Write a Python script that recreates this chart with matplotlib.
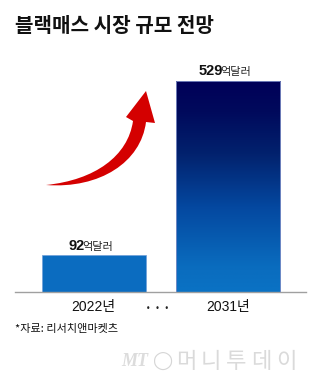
import matplotlib
matplotlib.use("Agg")
import matplotlib.pyplot as plt
import numpy as np
from matplotlib.path import Path
from matplotlib.patches import PathPatch
from matplotlib.colors import LinearSegmentedColormap

plt.rcParams['font.family'] = ['Liberation Sans', 'Noto Sans CJK KR', 'DejaVu Sans']

title = "블랙매스 시장 규모 전망"
categories = ["2022년", "2031년"]
values = [92, 529]
unit = "억달러"
source = "*자료: 리서치앤마켓츠"
watermark_mt = "MT"
watermark_name = "머니투데이"

W, H = 320, 384
fig = plt.figure(figsize=(W / 100, H / 100), dpi=100)
fig.patch.set_facecolor("white")

def fx(px):
    return px / W

def fy(py):
    return 1 - py / H

# axes: x 15..306 px, baseline at 292 px, top at 81 px (max value)
ax = fig.add_axes([fx(15), fy(292), fx(306) - fx(15), fy(81) - fy(292)])
ax.set_facecolor("none")
for s in ["top", "right", "left"]:
    ax.spines[s].set_visible(False)
ax.spines["bottom"].set_color("#a0a0a0")
ax.spines["bottom"].set_linewidth(1.0)
ax.set_yticks([])
ax.set_xticks([])

x = np.arange(len(categories))
bw = 0.776

# first bar: solid blue
ax.bar(x[0], values[0], width=bw, color="#0b6cc0", edgecolor="#6f9fd8",
       linewidth=0.5, zorder=2)

# second bar: gradient
b2 = ax.bar(x[1], values[1], width=bw, color="none", edgecolor="#8090c8",
            linewidth=0.6, zorder=3)
cmap = LinearSegmentedColormap.from_list(
    "grad",
    [(0.0, "#0a72c4"), (0.12, "#0a6cbe"), (0.4, "#0448a0"),
     (0.65, "#02226e"), (0.85, "#000a5c"), (1.0, "#000058")])
grad = np.linspace(0, 1, 256).reshape(-1, 1)
im = ax.imshow(grad, cmap=cmap, aspect="auto", origin="lower",
               extent=[x[1] - bw / 2, x[1] + bw / 2, 0, values[1]], zorder=2)
im.set_clip_path(b2.patches[0])
ax.set_xlim(-0.587, 1.584)
ax.set_ylim(0, max(values))

# value labels
fig.canvas.draw()
renderer = fig.canvas.get_renderer()
pts = 72 / fig.dpi
for xi, v in zip(x, values):
    t1 = ax.annotate(str(v), xy=(xi, v), xytext=(0, 4), textcoords="offset points",
                     ha="left", va="baseline", fontsize=10.5, fontweight="bold",
                     family=["Liberation Sans"], color="#111111")
    t2 = ax.annotate(unit, xy=(xi, v), xytext=(0, 4), textcoords="offset points",
                     ha="left", va="baseline", fontsize=8,
                     family=["Noto Sans CJK KR"], color="#222222")
    w1 = t1.get_window_extent(renderer).width
    w2 = t2.get_window_extent(renderer).width
    gap = -2.0
    tot = w1 + w2 + gap
    t1.xyann = ((-tot / 2 - 3) * pts, 4)
    t2.xyann = ((-tot / 2 + w1 + gap - 3) * pts, 4)

# category labels
for xi, c in zip(x, categories):
    ax.annotate(c, xy=(xi, 0), xycoords=("data", "axes fraction"),
                xytext=(0, -11), textcoords="offset points", ha="center",
                va="center", fontsize=10, color="#111111",
                family=["Liberation Sans", "Noto Sans CJK KR"])
ax.annotate("•  •  •", xy=(0.5, 0), xycoords=("data", "axes fraction"),
            xytext=(-2, -12), textcoords="offset points", ha="center",
            va="center", fontsize=5.5, color="#222222", family=["DejaVu Sans"])

# title
fig.text(fx(15), fy(26), title, fontsize=14.5, fontweight="bold",
         family=["Noto Sans CJK KR"], color="#111111", ha="left", va="center")

# source
fig.text(fx(15), fy(329), source, fontsize=8, family=["Noto Sans CJK KR"],
         color="#111111", ha="left", va="center")

# watermark
fig.text(fx(121), fy(361), watermark_mt, fontsize=13, style="italic",
         fontweight="bold", family=["Liberation Serif"], color="#dcdcdc",
         ha="left", va="center")
fig.text(fx(152), fy(361), "◯", fontsize=13, family=["DejaVu Sans"],
         color="#d6d6d6", ha="left", va="center")
for i, ch in enumerate(watermark_name):
    fig.text(fx(176 + i * 25), fy(361), ch, fontsize=16,
             family=["Noto Sans CJK KR"], fontweight="light",
             color="#dadada", ha="left", va="center")

# red arrow (decoration)
def P(px, py):
    return (fx(px), fy(py))

verts = [
    P(46, 185),
    P(100, 189), P(141, 162), P(146, 122),
    P(155, 123),
    P(146, 91),
    P(126, 117),
    P(133, 121),
    P(128, 156), P(95, 180), P(46, 185),
    P(46, 185),
]
codes = [Path.MOVETO,
         Path.CURVE4, Path.CURVE4, Path.CURVE4,
         Path.LINETO, Path.LINETO, Path.LINETO, Path.LINETO,
         Path.CURVE4, Path.CURVE4, Path.CURVE4,
         Path.CLOSEPOLY]
arrow = PathPatch(Path(verts, codes), facecolor="#d40000", edgecolor="none",
                  transform=fig.transFigure, zorder=5)
fig.patches.append(arrow)

fig.savefig("out.png", dpi=100, facecolor="white")
